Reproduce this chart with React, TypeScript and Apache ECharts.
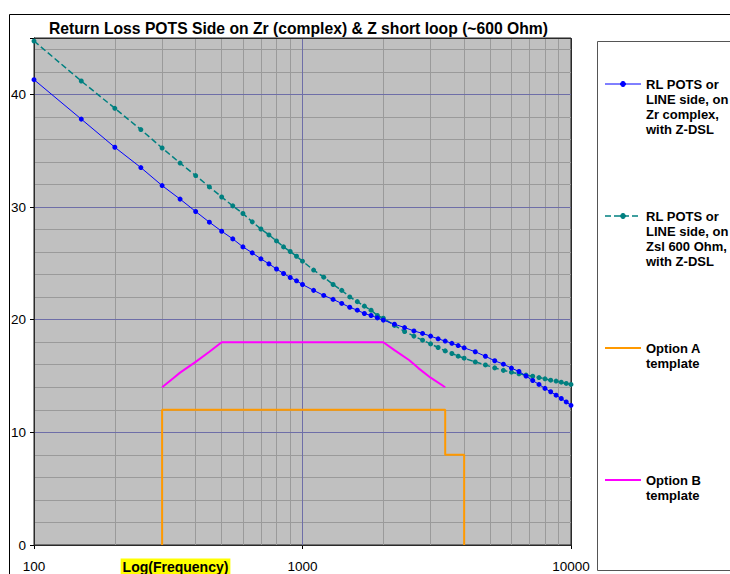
import React, { useEffect, useRef } from 'react';
import * as echarts from 'echarts';

const FONT = '"Liberation Sans", Arial, Helvetica, sans-serif';

const titleText = 'Return Loss POTS Side on Zr (complex) & Z short loop (~600 Ohm)';
const xAxisTitle = 'Log(Frequency)';

const freqs = [
  100, 150, 200, 250, 300, 350, 400, 450, 500, 550, 600, 650, 700, 750, 800, 850, 900, 950,
  1000, 1100, 1200, 1300, 1400, 1500, 1600, 1700, 1800, 1900, 2000, 2200, 2400, 2600, 2800,
  3000, 3200, 3400, 3600, 3800, 4000, 4400, 4800, 5200, 5600, 6000, 6400, 6800, 7200, 7600,
  8000, 8400, 8800, 9200, 9600, 10000,
];

const rlZrComplex = [
  41.3, 37.8, 35.3, 33.5, 31.9, 30.7, 29.6, 28.65, 27.85, 27.17, 26.46, 25.93, 25.4, 24.95,
  24.5, 24.1, 23.74, 23.45, 23.12, 22.6, 22.15, 21.8, 21.44, 21.1, 20.84, 20.55, 20.37, 20.16,
  19.96, 19.6, 19.3, 19.0, 18.78, 18.54, 18.3, 18.1, 17.9, 17.7, 17.5, 17.15, 16.75, 16.35,
  16.05, 15.7, 15.4, 15.0, 14.6, 14.25, 13.9, 13.6, 13.3, 13.0, 12.7, 12.4,
];

const rlZsl600 = [
  44.73, 41.18, 38.76, 36.87, 35.24, 33.9, 32.79, 31.78, 30.89, 30.1, 29.42, 28.68, 28.05,
  27.52, 26.99, 26.46, 26.05, 25.63, 25.19, 24.4, 23.77, 23.12, 22.6, 22.02, 21.6, 21.2, 20.84,
  20.37, 20.13, 19.49, 18.95, 18.54, 18.18, 17.85, 17.53, 17.23, 17.0, 16.76, 16.58, 16.25,
  15.98, 15.72, 15.5, 15.34, 15.2, 15.08, 14.98, 14.86, 14.75, 14.63, 14.55, 14.45, 14.34, 14.25,
];

const optionAFreq = [300, 300, 3400, 3400, 4000, 4000];
const optionAVal = [0, 12, 12, 8, 8, 0];

const optionBFreq = [300, 330, 350, 400, 450, 500, 2000, 2200, 2500, 2700, 3000, 3400];
const optionBVal = [14, 14.8, 15.3, 16.25, 17.15, 18, 18, 17.3, 16.4, 15.7, 14.85, 14];

const minorFreqs = [200, 300, 400, 500, 600, 700, 800, 900, 2000, 3000, 4000, 5000, 6000, 7000, 8000, 9000];

const yMin = 0;
const yMax = 45;
const yMajor = 10;
const yMinor = 2;

const seriesNames = [
  'RL POTS or LINE side, on Zr complex, with Z-DSL',
  'RL POTS or LINE side, on Zsl 600 Ohm, with Z-DSL',
  'Option A template',
  'Option B template',
];
const legendLabels = [
  'RL POTS or\nLINE side, on\nZr complex,\nwith Z-DSL',
  'RL POTS or\nLINE side, on\nZsl 600 Ohm,\nwith Z-DSL',
  'Option A\ntemplate',
  'Option B\ntemplate',
];

const COL_BLUE = '#0000FF';
const COL_TEAL = '#008080';
const COL_ORANGE = '#FF9900';
const COL_MAGENTA = '#FF00FF';
const COL_MAJOR = '#6E6EA8';
const COL_MINOR = '#9A9A9A';

const GRID = { left: 34, top: 38, width: 537, height: 507 };

const zip = (xs: number[], ys: number[]) => xs.map((x, i) => [x, ys[i]]);

export default function App() {
  const ref = useRef<HTMLDivElement>(null);

  useEffect(() => {
    if (!ref.current) return;
    const chart = echarts.init(ref.current, null, { renderer: 'svg' });

    const legendTops = [76.5, 208.5, 340.5, 472.5];
    const legendStyles = [
      { color: COL_BLUE, width: 1, dash: null as any, marker: true },
      { color: COL_TEAL, width: 1.5, dash: [6, 3], marker: true },
      { color: COL_ORANGE, width: 2, dash: null as any, marker: false },
      { color: COL_MAGENTA, width: 2, dash: null as any, marker: false },
    ];
    const legendGraphics: any[] = [];
    legendLabels.forEach((lab, i) => {
      const yc = legendTops[i] + 7.5;
      const st = legendStyles[i];
      legendGraphics.push({
        type: 'line',
        shape: { x1: 605, y1: yc, x2: 641, y2: yc },
        style: { stroke: st.color, lineWidth: st.width, lineDash: st.dash || undefined },
        silent: true,
        z: 20,
      });
      if (st.marker) {
        legendGraphics.push({
          type: 'circle',
          shape: { cx: 623, cy: yc, r: 2.5 },
          style: { fill: st.color, stroke: st.color },
          silent: true,
          z: 21,
        });
      }
      legendGraphics.push({
        type: 'text',
        x: 646,
        y: legendTops[i],
        z: 20,
        style: {
          text: lab,
          font: `bold 13px ${FONT}`,
          fontSize: 13,
          fontWeight: 'bold',
          fontFamily: FONT,
          lineHeight: 15,
          fill: '#000',
          textAlign: 'left',
          textVerticalAlign: 'top',
        },
        silent: true,
      });
    });

    const option: any = {
      animation: false,
      backgroundColor: '#FFFFFF',
      textStyle: { fontFamily: FONT },
      grid: {
        ...GRID,
        show: true,
        backgroundColor: '#C0C0C0',
        borderColor: '#222',
        borderWidth: 1,
        containLabel: false,
      },
      xAxis: {
        type: 'log',
        logBase: 10,
        min: 100,
        max: 10000,
        z: 1,
        axisLine: { show: true, lineStyle: { color: '#000', width: 1 } },
        axisTick: { show: true, length: 4, lineStyle: { color: '#000' } },
        axisLabel: {
          color: '#000',
          fontSize: 13.5,
          fontFamily: FONT,
          margin: 14,
          formatter: (v: number) => String(Math.round(v)),
        },
        splitLine: { show: true, lineStyle: { color: COL_MAJOR, width: 1 } },
      },
      yAxis: [
        {
          type: 'value',
          min: yMin,
          max: yMax,
          interval: yMajor,
          z: 1,
          axisLine: { show: true, lineStyle: { color: '#000', width: 1 } },
          axisTick: { show: true, length: 4, lineStyle: { color: '#000' } },
          axisLabel: {
            color: '#000',
            fontSize: 13.5,
            fontFamily: FONT,
            margin: 8,
            formatter: (v: number) => (v % yMajor === 0 ? String(v) : ''),
          },
          splitLine: { show: true, lineStyle: { color: COL_MAJOR, width: 1 } },
        },
        {
          type: 'value',
          min: yMin,
          max: yMax,
          interval: yMinor,
          position: 'left',
          z: 0,
          axisLine: { show: false },
          axisTick: { show: false },
          axisLabel: { show: false },
          splitLine: { show: true, lineStyle: { color: COL_MINOR, width: 1 } },
        },
      ],
      series: [
        {
          name: 'minor-grid',
          type: 'line',
          data: [],
          z: 0.5,
          silent: true,
          markLine: {
            z: 0.5,
            silent: true,
            animation: false,
            symbol: ['none', 'none'],
            label: { show: false },
            emphasis: { disabled: true },
            lineStyle: { type: 'solid', color: COL_MINOR, width: 1 },
            data: minorFreqs.map((f) => ({ xAxis: f })),
          },
        },
        {
          name: seriesNames[2],
          type: 'line',
          data: zip(optionAFreq, optionAVal),
          symbol: 'none',
          z: 3,
          lineStyle: { color: COL_ORANGE, width: 2 },
          itemStyle: { color: COL_ORANGE },
        },
        {
          name: seriesNames[3],
          type: 'line',
          data: zip(optionBFreq, optionBVal),
          symbol: 'none',
          z: 3,
          lineStyle: { color: COL_MAGENTA, width: 2 },
          itemStyle: { color: COL_MAGENTA },
        },
        {
          name: seriesNames[1],
          type: 'line',
          data: zip(freqs, rlZsl600),
          symbol: 'circle',
          symbolSize: 5,
          z: 4,
          lineStyle: { color: COL_TEAL, width: 1.5, type: [6, 3] },
          itemStyle: { color: COL_TEAL },
        },
        {
          name: seriesNames[0],
          type: 'line',
          data: zip(freqs, rlZrComplex),
          symbol: 'circle',
          symbolSize: 5,
          z: 5,
          lineStyle: { color: COL_BLUE, width: 1 },
          itemStyle: { color: COL_BLUE },
        },
      ],
      graphic: [
        {
          type: 'rect',
          shape: { x: 9.5, y: 14.5, width: 800, height: 700 },
          style: { fill: 'none', stroke: '#000', lineWidth: 1 },
          silent: true,
          z: -10,
        },
        {
          type: 'rect',
          shape: { x: GRID.left + 0.5, y: GRID.top + 0.5, width: GRID.width, height: GRID.height },
          style: { fill: 'none', stroke: '#2a2a2a', lineWidth: 1 },
          silent: true,
          z: 2,
        },
        {
          type: 'rect',
          shape: { x: 597.5, y: 41.5, width: 200, height: 529 },
          style: { fill: '#FFFFFF', stroke: '#555', lineWidth: 1 },
          silent: true,
        },
        {
          type: 'text',
          x: 298.5,
          y: 28,
          style: {
            text: titleText,
            font: `bold 15.7px ${FONT}`,
            fontSize: 15.7,
            fontWeight: 'bold',
            fontFamily: FONT,
            fill: '#000',
            textAlign: 'center',
            textVerticalAlign: 'middle',
          },
          silent: true,
        },
        {
          type: 'text',
          x: 175.5,
          y: 567,
          style: {
            text: xAxisTitle,
            font: `bold 14px ${FONT}`,
            fontSize: 14,
            fontWeight: 'bold',
            fontFamily: FONT,
            fill: '#000',
            backgroundColor: '#FFFF00',
            padding: [2, 2, 1, 2],
            textAlign: 'center',
            textVerticalAlign: 'middle',
          },
          silent: true,
        },
        ...legendGraphics,
      ],
    };

    chart.setOption(option);
    return () => chart.dispose();
  }, []);

  return (
    <div
      ref={ref}
      style={{ position: 'absolute', left: 0, top: 0, width: 730, height: 574, background: '#fff' }}
    />
  );
}
